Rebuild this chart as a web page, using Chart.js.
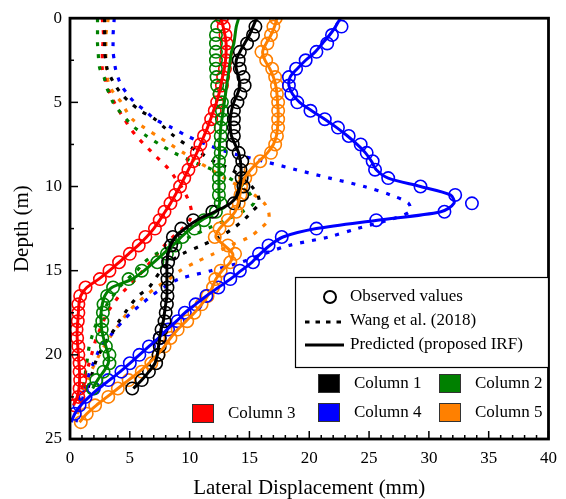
<!DOCTYPE html>
<html>
<head>
<meta charset="utf-8">
<script src="https://cdn.jsdelivr.net/npm/chart.js@4.4.1/dist/chart.umd.min.js"></script>
<style>
  html, body { margin: 0; padding: 0; background: #fff; }
</style>
</head>
<body>
<canvas id="chart" width="566" height="499"></canvas>
<script>
// depth below ground (m), one row every 0.5 m
const depth = [0, 0.5, 1, 1.5, 2, 2.5, 3, 3.5, 4, 4.5, 5, 5.5, 6, 6.5, 7, 7.5, 8, 8.5, 9, 9.5,
  10, 10.5, 11, 11.5, 12, 12.5, 13, 13.5, 14, 14.5, 15, 15.5, 16, 16.5, 17, 17.5, 18, 18.5, 19, 19.5,
  20, 20.5, 21, 21.5, 22, 22.5, 23, 23.5, 24];

const columnNames = ["Column 1", "Column 2", "Column 3", "Column 4", "Column 5"];
const columnColors = ["#000000", "#008000", "#ff0000", "#0000ff", "#ff8000"];

// lateral displacement (mm) - observed
const c1Obs = [null, 15.5, 15.3, 14.8, 14.2, 14.1, 14.2, 14.5, 14.6, 14.25, 14.0, 13.7, 13.7, 13.7, 13.7, 13.6, 14.1, 14.4, 14.25, 14.35,
  14.5, 14.4, 13.7, 11.9, 10.3, 9.3, 8.6, 8.45, 8.6, 8.2, 8.1, 8.15, 8.15, 8.15, 8.1, 8.0, 7.9, 7.65, 7.5, 7.5,
  7.4, 7.2, 6.6, 6.0, 5.2, null, null, null, null];
const c2Obs = [null, 12.3, 12.2, 12.2, 12.2, 12.2, 12.2, 12.25, 12.3, 12.5, 12.7, 12.7, 12.7, 12.6, 12.6, 12.6, 12.6, 12.45, 12.45, 12.45,
  12.45, 12.45, 12.6, 12.2, 11.2, 10.4, 9.4, 8.8, 8.1, 7.3, 6.0, 4.9, 3.6, 3.1, 2.8, 2.75, 2.7, 2.65, 2.7, 3.0,
  3.3, 3.3, 2.8, 2.2, 1.9, null, null, null, null];
const c3Obs = [12.7, 12.85, 13.0, 13.1, 13.1, 13.05, 12.95, 12.8, 12.7, 12.5, 12.3, 12.1, 11.8, 11.6, 11.2, 10.9, 10.6, 10.3, 9.9, 9.55,
  9.2, 8.8, 8.4, 7.9, 7.5, 7.1, 6.3, 5.75, 5.0, 4.1, 3.3, 2.5, 1.3, 0.85, 0.7, 0.7, 0.65, 0.55, 0.6, 0.7,
  0.7, 0.8, 0.8, 0.85, 0.8, 0.7, 0.4, null, null];
const c4Obs = [null, 22.7, 21.9, 21.5, 20.6, 19.7, 18.9, 18.3, 18.3, 18.5, 19.0, 20.1, 21.3, 22.4, 23.3, 24.3, 24.8, 25.3, 25.5, 26.6,
  29.3, 32.2, 33.6, 31.3, 25.6, 20.6, 17.7, 16.6, 15.8, 15.3, 14.2, 13.4, 12.4, 11.4, 10.5, 9.6, 9.0, 8.2, 7.5, 6.6,
  5.8, 5.0, 4.3, 3.2, 2.0, 1.3, 0.8, 0.4, null];
const c5Obs = [17.2, 17.0, 16.8, 16.5, 16.0, 16.4, 16.9, 17.15, 17.3, 17.3, 17.4, 17.4, 17.4, 17.4, 17.3, 17.15, 16.8, 15.9, 15.1, 14.65,
  14.3, 14.25, 14.1, 13.9, 13.2, 12.5, 12.1, 13.2, 13.8, 13.4, 12.6, 12.15, 11.95, 11.5, 11.0, 10.4, 9.8, 9.0, 8.4, 7.9,
  7.4, 6.8, 6.0, 4.9, 4.0, 3.2, 2.1, 1.4, 0.9];

// Wang et al. (2018)
const c1Wang = [2.9, 2.9, 2.9, 2.9, 2.9, 3.0, 3.1, 3.4, 3.8, 4.3, 5.0, 5.9, 7.1, 7.9, 8.7, 9.7, 10.9, 12.0, 13.5, 14.5,
  15.2, 15.7, 15.8, 15.2, 14.5, 13.6, 12.5, 11.0, 9.4, 8.3, 7.6, 7.1, 6.6, 5.7, 5.1, 4.6, 4.1, 3.7, 3.2, 2.8,
  2.4, 2.1, 1.9, 1.7, 1.5, null, null, null, null];
const c2Wang = [2.3, 2.3, 2.3, 2.3, 2.35, 2.4, 2.5, 2.85, 3.0, 3.3, 3.6, 4.1, 4.7, 5.4, 6.4, 7.5, 8.7, 10.2, 11.9, 13.3,
  14.5, 15.1, 15.35, 14.4, 13.0, 11.5, 10.0, 8.6, 7.2, 6.2, 5.6, 4.8, 4.1, 3.6, 3.1, 2.7, 2.3, 2.0, 1.8, 1.6,
  1.5, 1.4, 1.3, 1.2, 1.1, null, null, null, null];
const c3Wang = [2.7, 2.75, 2.8, 2.75, 2.7, 2.7, 2.7, 2.9, 3.1, 3.35, 3.7, 4.1, 4.55, 5.0, 5.55, 6.2, 6.9, 7.6, 8.3, 8.8,
  9.3, 9.7, 10.0, 10.15, 10.0, 9.4, 8.6, 7.9, 7.3, 6.7, 6.1, 5.5, 4.8, 4.1, 3.6, 3.1, 2.8, 2.5, 2.2, 2.0,
  1.8, 1.6, 1.4, 1.2, 1.0, 0.8, 0.6, null, null];
const c4Wang = [3.7, 3.65, 3.6, 3.6, 3.6, 3.7, 3.8, 4.0, 4.3, 4.8, 5.4, 6.3, 7.1, 8.5, 9.8, 11.4, 13.4, 16.2, 18.9, 21.7,
  24.6, 26.8, 28.3, 28.4, 26.6, 24.0, 21.6, 18.3, 16.2, 14.3, 11.8, 9.1, 7.8, 6.8, 5.95, 5.1, 4.4, 3.8, 3.2, 2.6,
  2.25, 1.95, 1.65, 1.45, 1.25, 1.1, 0.9, 0.7, 0.5];
const c5Wang = [3.2, 3.1, 3.0, 3.0, 3.0, 3.0, 3.05, 3.1, 3.3, 3.7, 4.3, 4.7, 5.2, 6.2, 7.3, 8.4, 9.5, 10.6, 11.8, 12.9,
  14.2, 15.4, 16.25, 16.6, 16.6, 15.9, 15.0, 13.4, 12.0, 10.5, 9.2, 8.3, 7.2, 6.3, 5.5, 4.8, 4.3, 3.8, 3.3, 2.85,
  2.45, 2.1, 1.75, 1.5, 1.25, 1.0, 0.8, 0.6, 0.4];

// predicted (proposed IRF)
const c1Pred = [15.6, 15.3, 15.0, 14.6, 14.2, 13.9, 13.9, 14.1, 14.2, 14.0, 13.7, 13.5, 13.4, 13.4, 13.5, 13.8, 14.1, 14.25, 14.3, 14.3,
  14.2, 14.0, 13.4, 12.1, 10.6, 9.6, 8.8, 8.4, 8.2, 8.1, 8.1, 8.1, 8.1, 8.1, 8.0, 7.9, 7.8, 7.6, 7.5, 7.4,
  7.3, 7.1, 6.6, 6.0, 5.3, null, null, null, null];
const c2Pred = [14.1, 13.9, 13.8, 13.7, 13.5, 13.4, 13.3, 13.2, 13.1, 13.0, 12.9, 12.8, 12.7, 12.6, 12.55, 12.5, 12.5, 12.45, 12.45, 12.45,
  12.45, 12.45, 12.5, 12.2, 11.0, 10.1, 9.3, 8.6, 7.8, 7.0, 6.2, 5.2, 3.5, 2.9, 2.7, 2.6, 2.6, 2.65, 2.8, 3.0,
  3.2, 3.2, 2.8, 2.3, 1.9, null, null, null, null];
const c3Pred = [12.6, 12.8, 12.95, 13.05, 13.05, 13.0, 12.9, 12.75, 12.6, 12.45, 12.25, 12.0, 11.75, 11.5, 11.2, 10.9, 10.6, 10.25, 9.9, 9.55,
  9.2, 8.8, 8.4, 7.95, 7.5, 7.0, 6.4, 5.7, 4.9, 4.1, 3.3, 2.4, 1.4, 0.9, 0.75, 0.7, 0.65, 0.6, 0.6, 0.65,
  0.7, 0.75, 0.8, 0.8, 0.75, 0.6, 0.3, null, null];
const c4Pred = [22.6, 22.2, 21.7, 21.1, 20.5, 19.7, 19.0, 18.4, 18.3, 18.6, 19.2, 20.2, 21.3, 22.3, 23.2, 24.0, 24.7, 25.2, 25.6, 26.6,
  29.3, 31.8, 32.1, 31.0, 25.7, 20.6, 17.8, 16.7, 15.9, 15.2, 14.3, 13.4, 12.4, 11.4, 10.5, 9.6, 8.9, 8.1, 7.4, 6.6,
  5.8, 5.0, 4.2, 3.3, 2.4, 1.6, 0.9, 0.4, 0.1];
const c5Pred = [17.3, 17.1, 16.8, 16.4, 16.1, 16.3, 16.7, 17.0, 17.2, 17.3, 17.35, 17.4, 17.4, 17.35, 17.25, 17.0, 16.5, 15.8, 15.1, 14.6,
  14.3, 14.2, 14.05, 13.8, 13.2, 12.5, 12.2, 12.9, 13.6, 13.4, 12.7, 12.2, 11.9, 11.5, 11.0, 10.4, 9.7, 9.0, 8.4, 7.9,
  7.3, 6.6, 5.8, 4.9, 4.0, 3.1, 2.2, 1.4, 0.8];

const xTicks = [0, 5, 10, 15, 20, 25, 30, 35, 40];
const yTicks = [0, 5, 10, 15, 20, 25];

const observed = [c1Obs, c2Obs, c3Obs, c4Obs, c5Obs];
const wang = [c1Wang, c2Wang, c3Wang, c4Wang, c5Wang];
const predicted = [c1Pred, c2Pred, c3Pred, c4Pred, c5Pred];

const FONT = "'Liberation Serif', 'Times New Roman', serif";

function pts(vals) {
  return depth.map((d, i) => ({ x: vals[i], y: d })).filter(p => p.x !== null);
}

const datasets = [];
columnNames.forEach((name, i) => {
  datasets.push({
    label: name + " predicted",
    data: pts(predicted[i]),
    showLine: true,
    borderColor: columnColors[i],
    borderWidth: 3,
    pointRadius: 0,
    tension: 0.3,
    order: 0
  });
  datasets.push({
    label: name + " observed",
    data: pts(observed[i]),
    showLine: false,
    pointStyle: "circle",
    pointRadius: 6.2,
    pointBorderWidth: 1.6,
    pointBorderColor: columnColors[i],
    pointBackgroundColor: "rgba(0,0,0,0)",
    order: 1
  });
  datasets.push({
    label: name + " Wang",
    data: pts(wang[i]),
    showLine: true,
    borderColor: columnColors[i],
    borderWidth: 3.2,
    borderDash: [4, 8],
    borderCapStyle: "butt",
    pointRadius: 0,
    tension: 0.3,
    order: 2
  });
});

// box frame plus inward ticks
const frameTicks = {
  id: "frameTicks",
  afterDatasetsDraw(chart) {
    const { ctx, chartArea: a, scales: { x, y } } = chart;
    ctx.save();
    ctx.strokeStyle = "#000";
    ctx.lineWidth = 1.5;
    for (let v = 0; v <= 40; v += 1) {
      const px = x.getPixelForValue(v);
      const len = v % 5 === 0 ? 8 : 4;
      ctx.beginPath();
      ctx.moveTo(px, a.bottom);
      ctx.lineTo(px, a.bottom - len);
      ctx.stroke();
    }
    for (let v = 0; v <= 25; v += 2.5) {
      const py = y.getPixelForValue(v);
      const len = v % 5 === 0 ? 8 : 4;
      ctx.beginPath();
      ctx.moveTo(a.left, py);
      ctx.lineTo(a.left + len, py);
      ctx.stroke();
    }
    ctx.lineWidth = 2.8;
    ctx.strokeRect(a.left, a.top, a.right - a.left, a.bottom - a.top);
    ctx.restore();
  }
};

// legend block drawn inside the plot
const legendBox = {
  id: "legendBox",
  afterDraw(chart) {
    const { ctx } = chart;
    ctx.save();
    ctx.fillStyle = "#fff";
    ctx.fillRect(295, 277, 253, 90);
    ctx.strokeStyle = "#000";
    ctx.lineWidth = 1.2;
    ctx.strokeRect(295.5, 277.5, 253, 90);

    ctx.font = "17px " + FONT;
    ctx.fillStyle = "#000";
    ctx.textBaseline = "middle";

    ctx.lineWidth = 2;
    ctx.beginPath();
    ctx.arc(330, 297, 6, 0, Math.PI * 2);
    ctx.stroke();
    ctx.fillText("Observed values", 350, 297);

    ctx.lineWidth = 3;
    ctx.setLineDash([4.5, 6]);
    ctx.beginPath();
    ctx.moveTo(305, 322);
    ctx.lineTo(344, 322);
    ctx.stroke();
    ctx.setLineDash([]);
    ctx.fillText("Wang et al. (2018)", 350, 321);

    ctx.beginPath();
    ctx.moveTo(305, 345);
    ctx.lineTo(344, 345);
    ctx.stroke();
    ctx.fillText("Predicted (proposed IRF)", 350, 345);

    const swatches = [
      [318, 374, 354, 0], [439, 374, 475, 1],
      [192, 404, 228, 2], [318, 403, 354, 3], [439, 403, 475, 4]
    ];
    ctx.lineWidth = 1;
    swatches.forEach(([sx, sy, tx, i]) => {
      ctx.fillStyle = columnColors[i];
      ctx.fillRect(sx, sy, 22, 19);
      ctx.strokeStyle = "#333";
      ctx.strokeRect(sx + 0.5, sy + 0.5, 21, 18);
      ctx.fillStyle = "#000";
      ctx.fillText(columnNames[i], tx, sy + 10);
    });
    ctx.restore();
  }
};

new Chart(document.getElementById("chart"), {
  type: "scatter",
  data: { datasets },
  options: {
    responsive: false,
    animation: false,
    layout: { padding: { top: 16, right: 13, left: 0, bottom: 0 } },
    plugins: { legend: { display: false }, tooltip: { enabled: false } },
    scales: {
      x: {
        type: "linear",
        min: 0,
        max: 40,
        afterBuildTicks: s => { s.ticks = xTicks.map(v => ({ value: v })); },
        afterFit: s => { s.height = 60; },
        grid: { display: false, drawTicks: false },
        border: { display: false },
        ticks: { color: "#000", padding: 9, maxRotation: 0, font: { family: FONT, size: 17 } },
        title: { display: true, text: "Lateral Displacement (mm)", color: "#000",
          padding: { top: -2, bottom: 0 }, font: { family: FONT, size: 21, lineHeight: 1 } }
      },
      y: {
        type: "linear",
        reverse: true,
        min: 0,
        max: 25,
        afterBuildTicks: s => { s.ticks = yTicks.map(v => ({ value: v })); },
        afterFit: s => { s.width = 70; },
        grid: { display: false, drawTicks: false },
        border: { display: false },
        ticks: { color: "#000", padding: 8, font: { family: FONT, size: 17 } },
        title: { display: true, text: "Depth (m)", color: "#000",
          padding: { top: 12, bottom: 0 }, font: { family: FONT, size: 21, lineHeight: 1 } }
      }
    }
  },
  plugins: [frameTicks, legendBox]
});
</script>
</body>
</html>
